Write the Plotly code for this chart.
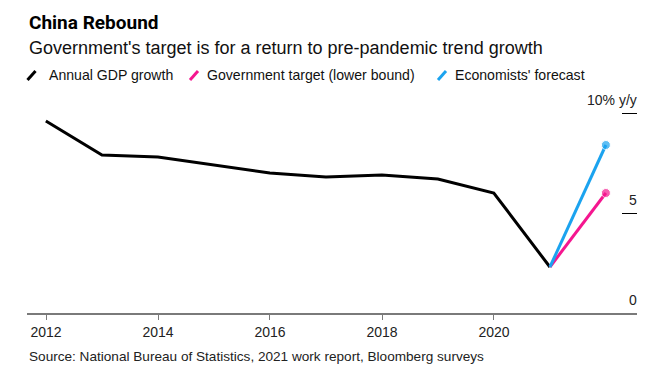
import datetime as dt
import plotly.graph_objects as go

# ---- data ----
years = [2011, 2012, 2013, 2014, 2015, 2016, 2017, 2018, 2019, 2020]
gdp_growth = [9.6, 7.9, 7.8, 7.4, 7.0, 6.8, 6.9, 6.7, 6.0, 2.3]
target_years = [2020, 2021]
gov_target = [2.3, 6.0]
econ_forecast = [2.3, 8.4]
x_tick_years = [2012, 2014, 2016, 2018, 2020]
y_tick_vals = [0, 5, 10]
y_tick_text = ["0", "5", "10% y/y"]

BLACK = "#000000"
PINK = "#f5168f"
BLUE = "#1ba3ef"
FONT = "Liberation Sans"


def to_date(y):
    return f"{y}-12-31"


fig = go.Figure()
fig.add_trace(go.Scatter(x=[to_date(y) for y in years], y=gdp_growth, mode="lines",
                         line=dict(color=BLACK, width=3), name="Annual GDP growth",
                         showlegend=False))
fig.add_trace(go.Scatter(x=[to_date(y) for y in target_years], y=gov_target, mode="lines+markers",
                         line=dict(color=PINK, width=3), marker=dict(size=[0, 9], color=PINK),
                         name="Government target (lower bound)", showlegend=False))
fig.add_trace(go.Scatter(x=[to_date(y) for y in target_years], y=econ_forecast, mode="lines+markers",
                         line=dict(color=BLUE, width=3), marker=dict(size=[0, 9], color=BLUE),
                         name="Economists' forecast", showlegend=False))

# page body has an 8px default margin: the figure starts at (8, 8)
OFF = 8
W, H = 662 - OFF, 373 - OFF
Y_TOP = 12.0
ML, MR, MB = 27 - OFF, 25, 60
MT = round(313 - Y_TOP * 20) - OFF
PW = W - ML - MR
PH = H - MT - MB
px_per_year = 56.0
start = dt.date(2012, 1, 1) - dt.timedelta(days=round(19 / px_per_year * 365.25))
end = start + dt.timedelta(days=round(PW / px_per_year * 365.25))


def px_x(p):
    return (p - OFF - ML) / PW


def px_y(p):
    return (H - MB - (p - OFF)) / PH


annotations = [
    dict(text="<b>China Rebound</b>", x=px_x(27), y=px_y(22), font=dict(size=19, color="#000", family="Roboto")),
    dict(text="Government's target is for a return to pre-pandemic trend growth", x=px_x(27), y=px_y(48),
         font=dict(size=18, color="#111")),
    dict(text="Source: National Bureau of Statistics, 2021 work report, Bloomberg surveys", x=px_x(27),
         y=px_y(356), font=dict(size=13.6, color="#222")),
]
legend_items = [("Annual GDP growth", BLACK, 31.5, 47),
                ("Government target (lower bound)", PINK, 194, 205),
                ("Economists' forecast", BLUE, 442, 453)]
shapes = []
for label, color, sx, tx in legend_items:
    annotations.append(dict(text=label, x=px_x(tx), y=px_y(75), font=dict(size=14.1, color="#111")))
    shapes.append(dict(type="line", xref="paper", yref="paper",
                       x0=px_x(sx - 4), y0=px_y(80), x1=px_x(sx + 4), y1=px_y(71),
                       line=dict(color=color, width=3)))
for a in annotations:
    a.update(xref="paper", yref="paper", xanchor="left", yanchor="middle", showarrow=False)

fig.update_layout(
    width=W, height=H,
    margin=dict(l=ML, r=MR, t=MT, b=MB),
    paper_bgcolor="white", plot_bgcolor="white",
    font=dict(family=FONT, color="#222"),
    annotations=annotations,
    shapes=shapes,
    xaxis=dict(type="date", range=[start.isoformat(), end.isoformat()],
               tickvals=[f"{y}-01-01" for y in x_tick_years], ticktext=[str(y) for y in x_tick_years],
               showgrid=False, zeroline=False, showline=True, linecolor="#7a7a7a", linewidth=2,
               ticks="outside", ticklen=5, tickcolor="#7a7a7a", tickwidth=1,
               tickfont=dict(size=14, color="#222")),
    yaxis=dict(range=[0, Y_TOP], side="right", tickvals=y_tick_vals, ticktext=y_tick_text,
               showgrid=False, zeroline=False, showline=False,
               ticks="inside", ticklen=15, tickcolor="#000", tickwidth=1,
               ticklabelposition="inside", ticklabelshift=-13, ticklabelstandoff=-15,
               tickfont=dict(size=14, color="#222")),
)
fig.write_html("out.html")
